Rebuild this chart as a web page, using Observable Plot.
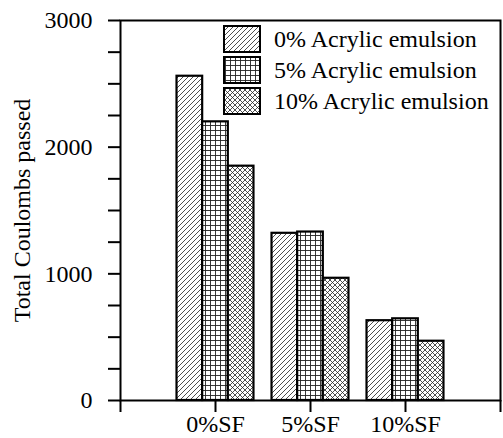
<!DOCTYPE html>
<html><head><meta charset="utf-8">
<script src="https://cdn.jsdelivr.net/npm/d3@7"></script>
<script src="https://cdn.jsdelivr.net/npm/@observablehq/plot@0.6"></script>
<style>body{margin:0;background:#fff}</style>
</head><body><div id="chart"></div>
<script>
const groups = ["0%SF", "5%SF", "10%SF"];
const series = ["0% Acrylic emulsion", "5% Acrylic emulsion", "10% Acrylic emulsion"];
const vals0 = [2560, 1320, 630];
const vals5 = [2200, 1330, 645];
const vals10 = [1850, 965, 468];
const yTicks = d3.range(0, 3001, 250);
const patternIds = ["hatch", "grid", "cross"];

const seriesVals = [vals0, vals5, vals10];
const barW = 0.27;
const rows = [];
seriesVals.forEach((vals, s) => vals.forEach((v, g) => {
  const x1 = g + 1 - 1.5 * barW + s * barW;
  rows.push({s, g, x1, x2: x1 + barW, v});
}));

const plot = Plot.plot({
  width: 503, height: 438,
  marginLeft: 120, marginRight: 3, marginTop: 20, marginBottom: 38,
  style: {fontFamily: "'Liberation Serif', 'Times New Roman', serif", fontSize: "24px", color: "#000", background: "#fff"},
  x: {domain: [0, 4]},
  y: {domain: [0, 3000]},
  marks: [
    ...[0, 1, 2].map(s => Plot.rectY(rows.filter(d => d.s === s), {
      x1: "x1", x2: "x2", y: "v", fill: `url(#${patternIds[s]})`, stroke: "#000", strokeWidth: 2.2
    })),
    Plot.frame({stroke: "#000", strokeWidth: 2}),
    Plot.axisY({ticks: yTicks, tickSize: 12, tickPadding: 16, strokeWidth: 2,
      tickFormat: d => d % 1000 === 0 ? String(d) : "",
      label: "Total Coulombs passed", labelAnchor: "center", labelArrow: "none", labelOffset: 108}),
    Plot.axisX({ticks: [0, 1, 2, 3, 4], tickSize: 12, tickPadding: 2, strokeWidth: 2,
      tickFormat: d => groups[d - 1] ?? "", label: null})
  ]
});
document.getElementById("chart").appendChild(plot);

const svg = d3.select(plot);
const defs = svg.insert("defs", ":first-child");
const p1 = defs.append("pattern").attr("id", "hatch").attr("patternUnits", "userSpaceOnUse").attr("width", 5).attr("height", 5);
p1.append("rect").attr("width", 5).attr("height", 5).attr("fill", "#fff");
p1.append("path").attr("d", "M-1,1 l2,-2 M0,5 l5,-5 M4,6 l2,-2").attr("stroke", "#222").attr("stroke-width", 0.8);
const p2 = defs.append("pattern").attr("id", "grid").attr("patternUnits", "userSpaceOnUse").attr("width", 5).attr("height", 5);
p2.append("rect").attr("width", 5).attr("height", 5).attr("fill", "#fff");
p2.append("path").attr("d", "M0,0.5 H5 M0.5,0 V5").attr("stroke", "#222").attr("stroke-width", 0.9);
const p3 = defs.append("pattern").attr("id", "cross").attr("patternUnits", "userSpaceOnUse").attr("width", 5).attr("height", 5);
p3.append("rect").attr("width", 5).attr("height", 5).attr("fill", "#fff");
p3.append("path").attr("d", "M-1,1 l2,-2 M0,5 l5,-5 M4,6 l2,-2 M-1,4 l2,2 M0,0 l5,5 M4,-1 l2,2").attr("stroke", "#222").attr("stroke-width", 0.8);

// legend
const lg = svg.append("g").attr("font-family", "'Liberation Serif', 'Times New Roman', serif")
  .attr("font-size", 24).attr("text-anchor", "start");
series.forEach((name, i) => {
  const y = 26 + i * 31;
  lg.append("rect").attr("x", 224).attr("y", y).attr("width", 36).attr("height", 26)
    .attr("fill", `url(#${patternIds[i]})`).attr("stroke", "#000").attr("stroke-width", 2);
  lg.append("text").attr("x", 274).attr("y", y + 13).attr("dy", "0.35em")
    .attr("text-anchor", "start").attr("fill", "#000").text(name);
});
</script></body></html>
